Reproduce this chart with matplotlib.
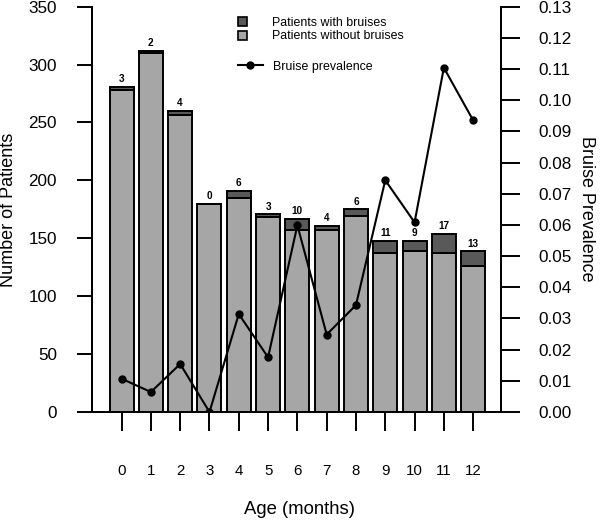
import numpy as np
import matplotlib
matplotlib.use("Agg")
import matplotlib.pyplot as plt
from matplotlib.patches import Patch
from matplotlib.lines import Line2D

plt.rcParams["font.family"] = ["Liberation Sans", "DejaVu Sans"]

# data
months = list(range(13))
without_bruises = [278, 310, 256, 180, 185, 168, 157, 157, 169, 137, 139, 137, 126]
with_bruises = [3, 2, 4, 0, 6, 3, 10, 4, 6, 11, 9, 17, 13]

LIGHT = "#a6a6a6"
DARK = "#595959"

without_arr = np.array(without_bruises)
with_arr = np.array(with_bruises)
totals = without_arr + with_arr
prevalence = with_arr / totals

fig = plt.figure(figsize=(6, 5.21), dpi=100)
ax = fig.add_axes([92 / 600, 109 / 521, 409 / 600, 405.4 / 521])

width = 0.82
ax.bar(months, without_arr, width=width, color=LIGHT, edgecolor="black", linewidth=1.4, zorder=2)
ax.bar(months, with_arr, width=width, bottom=without_arr, color=DARK, edgecolor="black",
       linewidth=1.4, zorder=2)

for m, t, n in zip(months, totals, with_bruises):
    ax.annotate(str(n), (m, t), xytext=(0, 5.3), textcoords="offset points",
                ha="center", va="center", fontsize=7.2, fontweight="bold")

ax.set_xlim(-1.01, 12.95)
ax.set_ylim(0, 350)
ax.set_yticks(np.arange(0, 351, 50))
ax.set_xticks(months)
ax.tick_params(axis="x", direction="out", length=13.7, width=1.4, pad=24, labelsize=10.8)
ax.tick_params(axis="y", direction="out", length=10.8, width=1.4, pad=14.5, labelsize=12.3)
ax.spines["top"].set_visible(False)
for side in ["left", "bottom", "right"]:
    ax.spines[side].set_linewidth(1.4)

ax2 = ax.twinx()
ax2.plot(months, prevalence, color="black", linewidth=1.5, marker="o", markersize=5, zorder=3)
ax2.set_ylim(0, 0.13)
ax2.set_yticks(np.arange(0, 0.1301, 0.01))
ax2.set_yticklabels([f"{v:.2f}" for v in np.arange(0, 0.1301, 0.01)])
ax2.tick_params(axis="y", direction="out", length=13.7, width=1.4, pad=13, labelsize=12.3)
ax2.spines["top"].set_visible(False)
for side in ["left", "bottom", "right"]:
    ax2.spines[side].set_linewidth(1.4)

fig.text(8.3 / 600, 1 - 210 / 521, "Number of Patients", rotation=90,
         ha="center", va="center", fontsize=13)
fig.text(586.7 / 600, 1 - 209 / 521, "Bruise Prevalence", rotation=270,
         ha="center", va="center", fontsize=12.9)
fig.text(299.5 / 600, 1 - 510 / 521, "Age (months)", ha="center", va="center", fontsize=13.3)

bar_handles = [
    Patch(facecolor=DARK, edgecolor="black", linewidth=1.2),
    Patch(facecolor=LIGHT, edgecolor="black", linewidth=1.2),
]
leg1 = ax2.legend(bar_handles, ["Patients with bruises", "Patients without bruises"],
                  loc="center left", bbox_to_anchor=(238 / 600, 1 - 29.5 / 521),
                  bbox_transform=fig.transFigure, frameon=False, fontsize=8.9,
                  handlelength=0.73, handleheight=0.73, handletextpad=2.06,
                  borderpad=0, borderaxespad=0, labelspacing=0.15)
ax2.add_artist(leg1)
line_handle = [Line2D([], [], color="black", linewidth=1.5, marker="o", markersize=5)]
ax2.legend(line_handle, ["Bruise prevalence"], loc="center left",
           bbox_to_anchor=(238 / 600, 1 - 66.7 / 521), bbox_transform=fig.transFigure,
           frameon=False, fontsize=8.9, handlelength=2.0, handletextpad=0.8,
           borderpad=0, borderaxespad=0)

fig.savefig("out.png", dpi=100)
